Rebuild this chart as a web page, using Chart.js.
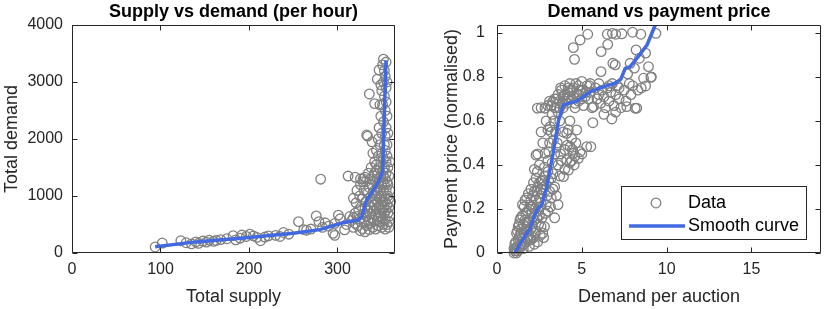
<!DOCTYPE html>
<html><head><meta charset="utf-8">
<script src="https://cdn.jsdelivr.net/npm/chart.js@4"></script>
<style>
body{margin:0;background:#fff;width:830px;height:309px;overflow:hidden;position:relative}
.box{position:absolute;top:0;width:415px;height:309px}
</style></head><body>
<div class="box" style="left:0"><canvas id="c1" width="415" height="309"></canvas></div>
<div class="box" style="left:415px"><canvas id="c2" width="415" height="309"></canvas></div>
<script>
// ---- Left panel: Supply vs demand (per hour) ----
const supplyDemandPoints = [
[94,105],[102,175],[123,215],[129,180],[135,160],[140,195],[143,170],[148,210],[152,190],[155,225],[160,205],[163,220],[168,235],[175,250],[182,305],[185,230],[190,260],[192,315],[197,290],[201,330],[205,300],[209,275],[213,215],[218,280],[222,300],[230,310],[235,290],[239,360],[245,330],[256,550],[262,410],[265,400],[270,420],[276,650],[279,550],[281,1295],[283,450],[286,530],[290,470],[295,345],[297,310],[297,520],[301,665],[303,600],[308,405],[310,500],[312,1350],[314,640],[316,570],
[318,620],[318,450],[320,700],[320,520],[321,880],[322,640],[323,480],[324,760],[325,1000],[325,600],[326,390],[326,1200],[327,820],[327,540],[328,950],[328,430],[329,680],[329,1300],[330,1100],[330,560],[331,780],[331,370],[332,900],[332,1250],[333,640],[333,2070],[333,480],[334,2050],[334,1050],[334,740],[335,1400],[335,850],[335,560],[336,2790],[336,1150],[336,410],[337,980],[337,690],[337,1300],[338,1500],[338,800],[338,520],[339,1950],[339,1200],[339,620],[340,1050],[340,900],[340,1750],[340,450],[341,1350],[341,740],[341,580],[342,2620],[342,1100],[342,1600],[342,850],[343,1250],[343,680],[343,950],[343,420],[344,1450],[344,1800],[344,1000],[344,760],[345,1150],[345,560],[345,1300],[345,890],[346,1700],[346,640],[346,1050],[346,480],[347,1250],[347,820],[347,1500],[347,2200],[348,950],[348,700],[348,1100],[348,1900],[348,550],[349,1350],[349,1600],[349,850],[349,2400],[349,650],[350,1200],[350,1000],[350,1750],[350,760],[350,2100],[350,450],[351,1450],[351,900],[351,2600],[351,1250],[351,600],[352,3000],[352,1100],[352,1650],[352,800],[352,2300],[352,1350],[352,500],[353,3200],[353,1900],[353,1000],[353,2750],[353,1500],[353,700],[353,1200],[354,3100],[354,2500],[354,1800],[354,900],[354,2050],[354,1300],[354,600],[354,420],[355,3350],[355,2900],[355,2200],[355,1600],[355,1100],[355,750],[355,1400],[355,2650],[356,3000],[356,1900],[356,1250],[356,850],[356,2400],[356,500],[356,1700],[357,1500],[357,2100],[357,1000],[357,700],[357,1200],[358,800],[358,1350],[358,550],[358,950],[358,450],[359,1100],[359,650],[359,1600],[360,900],[352,3400],[350,2850],[348,2600],[346,2000],[344,1550],[342,1400],[329,1250],[331,1330],[326,1300],[322,1100],[320,1330],[318,960],[345,3050],[349,2950],[351,3300],[347,3210]
];
const supplyCurveX = [94,140,200,250,280,305,318,323.5,327.5,333,342.5,348.5,351,354.8];
const supplyCurveY = [110,195,270,345,410,525,565,575,640,930,1150,1330,1420,3380];
const leftXTicks = [0,100,200,300];
const leftYTicks = [0,1000,2000,3000,4000];

// ---- Right panel: Demand vs payment price ----
const pricePoints = [
[1.0,0.0],[1.05,0.01],[1.1,0.02],[1.15,0.0],[1.2,0.03],[1.1,0.05],[1.25,0.06],[1.3,0.02],[1.35,0.08],[1.2,0.1],[1.4,0.04],[1.45,0.11],[1.5,0.07],[1.3,0.13],[1.55,0.02],[1.6,0.09],[1.65,0.15],[1.5,0.17],[1.7,0.05],[1.75,0.12],[1.8,0.19],[1.6,0.21],[1.85,0.08],[1.9,0.14],[1.95,0.22],[2.0,0.11],[2.05,0.18],[1.75,0.25],[2.1,0.26],[2.15,0.07],[2.2,0.15],[2.25,0.2],[2.3,0.1],[2.35,0.28],[2.4,0.05],[2.45,0.13],[2.5,0.17],[2.55,0.08],[2.6,0.23],[2.7,0.09],[2.75,0.07],[2.8,0.12],[1.4,0.16],[1.9,0.03],[2.0,0.24],[2.2,0.04],[2.4,0.3],[2.5,0.32],[2.6,0.29],[2.7,0.33],[2.8,0.35],[2.9,0.31],[3.0,0.37],[2.9,0.22],[3.0,0.19],[3.1,0.28],[3.2,0.34],[3.2,0.25],[3.3,0.36],[3.4,0.3],[3.4,0.16],[3.5,0.26],[3.6,0.22],[2.3,0.34],[2.2,0.38],[2.4,0.45],[1.3,0.07],[1.45,0.03],[1.7,0.18],[1.85,0.27],[2.1,0.12],[2.65,0.16],[2.95,0.26],[1.55,0.13],[1.0,0.02],[1.25,0.12],[2.0,0.06],[2.55,0.21],
[1.15,0.09],[1.35,0.15],[1.5,0.22],[1.6,0.04],[1.65,0.24],[1.8,0.1],[1.9,0.2],[2.0,0.29],[2.1,0.16],[2.15,0.32],[2.25,0.09],[2.3,0.24],[2.45,0.19],[2.5,0.25],[2.65,0.27],[2.75,0.3],[2.85,0.18],[3.05,0.33],[3.15,0.21],[3.3,0.29],[1.05,0.04],[1.2,0.01],[1.4,0.09],[1.7,0.14],[1.95,0.06],[2.35,0.16],[2.6,0.12],[2.2,0.28],[1.8,0.06],[2.05,0.21],
[2.3,0.445],[2.38,0.37],[2.83,0.453],[2.6,0.327],[3.0,0.42],[3.1,0.5],[3.13,0.574],[3.33,0.514],[3.2,0.55],[3.0,0.56],[2.9,0.6],[3.4,0.45],[3.6,0.4],[3.7,0.35],[3.8,0.42],[3.92,0.347],[4.0,0.38],[4.11,0.423],[4.11,0.544],[4.21,0.377],[4.31,0.483],[4.3,0.41],[4.5,0.453],[4.4,0.42],[4.6,0.44],[4.7,0.559],[4.8,0.43],[4.9,0.46],[5.0,0.45],[5.29,0.483],[3.5,0.48],[3.7,0.6],[3.6,0.64],[4.3,0.6],[4.2,0.56],[4.4,0.52],[3.35,0.6],[3.9,0.55],[4.0,0.47],
[2.5,0.4],[2.7,0.5],[2.8,0.39],[3.05,0.46],[3.25,0.41],[3.45,0.55],[3.55,0.5],[3.75,0.45],[4.15,0.49],[4.45,0.47],[4.65,0.5],[4.55,0.4],[2.6,0.55],[3.25,0.63],
[2.38,0.658],[2.6,0.66],[2.83,0.658],[3.0,0.67],[3.1,0.69],[3.29,0.688],[3.4,0.7],[3.5,0.66],[3.6,0.72],[3.7,0.69],[3.8,0.74],[3.9,0.71],[4.0,0.76],[4.1,0.68],[4.2,0.73],[4.3,0.77],[4.4,0.7],[4.5,0.75],[4.6,0.66],[4.7,0.72],[4.8,0.69],[4.9,0.74],[5.0,0.78],[5.1,0.67],[5.2,0.71],[5.3,0.76],[5.4,0.7],[5.5,0.73],[5.6,0.66],[5.69,0.665],[5.8,0.75],[5.9,0.7],[6.0,0.77],[6.1,0.68],[6.2,0.74],[6.3,0.71],[6.4,0.66],[6.5,0.75],[6.6,0.69],[6.7,0.73],[6.8,0.77],[6.9,0.67],[7.0,0.72],[7.1,0.76],[7.2,0.7],[7.3,0.66],[7.5,0.74],[7.6,0.69],[7.65,0.665],[7.8,0.77],[7.9,0.72],[8.0,0.76],[8.24,0.658],[8.3,0.74],[8.5,0.75],[8.64,0.794],[8.76,0.759],[9.07,0.798],[6.77,0.609],[5.65,0.592],[7.0,0.64],[6.3,0.63],[4.6,0.68],[4.0,0.72],[3.9,0.66],[4.2,0.75],[4.5,0.71],[3.7,0.66],[4.8,0.76],[5.0,0.7],[5.5,0.77],[6.0,0.72],[6.6,0.76],[7.2,0.75],[8.14,0.658],[3.4,0.66],[3.2,0.67],[4.3,0.74],
[3.5,0.7],[3.75,0.75],[4.05,0.69],[4.25,0.71],[4.45,0.74],[4.65,0.77],[4.85,0.72],[5.05,0.74],[5.25,0.73],[5.45,0.76],[3.85,0.68],[4.15,0.7],
[4.5,0.933],[4.57,0.88],[4.9,0.968],[5.35,0.994],[6.5,0.994],[6.8,0.998],[7.0,0.994],[7.36,0.996],[6.53,0.948],[7.99,1.003],[8.48,0.994],[9.37,0.998],[6.83,0.862],[7.85,0.862],[8.2,0.923],[8.4,0.885],[8.76,0.908],[8.93,0.847],[7.7,0.814],[6.14,0.915],[6.97,0.855],[6.13,0.824],[8.1,0.84],[9.1,0.8],[5.53,0.483]
];
const priceCurveX = [1.06,1.5,1.95,2.2,2.4,2.65,2.93,3.3,3.62,3.92,4.3,4.7,5.1,5.5,6.08,6.97,7.3,7.56,7.85,8.3,8.84,9.33,9.55];
const priceCurveY = [0.0,0.06,0.11,0.17,0.2,0.22,0.3,0.45,0.6,0.673,0.682,0.69,0.71,0.733,0.75,0.772,0.79,0.839,0.847,0.89,0.945,1.036,1.08];
const rightXTicks = [0,5,10,15];
const rightYTicks = [0,0.2,0.4,0.6,0.8,1];

const FONT = '"Liberation Sans", Arial, Helvetica, sans-serif';
const AX = '#262626';
const GRAY = 'rgb(128,128,128)';
const BLUE = 'rgb(65,105,225)';

const framePlugin = {
  id: 'frame',
  afterDatasetsDraw(chart, args, opts) {
    const {ctx, chartArea: a, scales: {x, y}} = chart;
    ctx.save();
    ctx.strokeStyle = AX; ctx.lineWidth = 1;
    const L = Math.round(a.left) + 0.5, R = Math.round(a.right) - 0.5;
    const T = Math.round(a.top) + 0.5, B = Math.round(a.bottom) - 0.5;
    ctx.beginPath();
    ctx.rect(L, T, R - L, B - T);
    const tl = 5;
    x.ticks.forEach(t => {
      const p = Math.round(x.getPixelForValue(t.value)) + 0.5;
      ctx.moveTo(p, B); ctx.lineTo(p, B - tl);
      ctx.moveTo(p, T); ctx.lineTo(p, T + tl);
    });
    y.ticks.forEach(t => {
      const p = Math.round(y.getPixelForValue(t.value)) + 0.5;
      ctx.moveTo(L, p); ctx.lineTo(L + tl, p);
      ctx.moveTo(R, p); ctx.lineTo(R - tl, p);
    });
    ctx.stroke();
    ctx.fillStyle = '#000';
    ctx.font = 'bold 18px ' + FONT;
    ctx.textAlign = 'center'; ctx.textBaseline = 'middle';
    ctx.fillText(opts.title, (a.left + a.right) / 2, 12);
    if (opts.legend) {
      const bx0 = a.right - 200, bx1 = a.right - 15, by0 = a.bottom - 67, by1 = a.bottom - 14;
      ctx.fillStyle = '#fff';
      ctx.fillRect(bx0, by0, bx1 - bx0, by1 - by0);
      ctx.strokeStyle = AX; ctx.lineWidth = 1;
      ctx.strokeRect(Math.round(bx0) + 0.5, Math.round(by0) + 0.5, Math.round(bx1 - bx0), Math.round(by1 - by0));
      ctx.beginPath();
      ctx.strokeStyle = GRAY; ctx.lineWidth = 1.3;
      ctx.arc(bx0 + 35, by0 + 17, 4.8, 0, Math.PI * 2);
      ctx.stroke();
      ctx.beginPath();
      ctx.strokeStyle = BLUE; ctx.lineWidth = 3.5;
      ctx.moveTo(bx0 + 8, by0 + 40); ctx.lineTo(bx0 + 64, by0 + 40);
      ctx.stroke();
      ctx.fillStyle = '#000';
      ctx.font = '18px ' + FONT;
      ctx.textAlign = 'left';
      ctx.fillText('Data', bx0 + 67, by0 + 17);
      ctx.fillText('Smooth curve', bx0 + 67, by0 + 40);
    }
    ctx.restore();
  }
};

function axis(opts) {
  return {
    type: 'linear', min: opts.min, max: opts.max,
    afterBuildTicks: s => { s.ticks = opts.ticks.map(v => ({value: v})); },
    afterFit: s => { if (opts.height) s.height = opts.height; if (opts.width) s.width = opts.width; },
    grid: {display: false, drawTicks: false},
    border: {display: false},
    ticks: {color: AX, font: {size: 16, family: FONT}, padding: opts.tickPad, autoSkip: false, maxRotation: 0,
      callback: v => String(+Number(v).toFixed(2))},
    title: {display: true, text: opts.title, color: AX, font: {size: 18, family: FONT}, padding: opts.titlePad}
  };
}

function makeChart(id, pts, cx, cy, cfg) {
  return new Chart(document.getElementById(id), {
    type: 'scatter',
    data: {
      datasets: [
        {label: 'Smooth curve', data: cx.map((v, i) => ({x: v, y: cy[i]})), showLine: true, borderColor: BLUE,
         borderWidth: 3.5, pointRadius: 0, tension: 0, order: 0},
        {label: 'Data', data: pts.map(p => ({x: p[0], y: p[1]})), borderColor: GRAY, backgroundColor: 'rgba(0,0,0,0)',
         pointRadius: 4.8, borderWidth: 1.3, pointHoverRadius: 4.8, clip: false, order: 1}
      ]
    },
    options: {
      responsive: false, animation: false, devicePixelRatio: 1,
      layout: {padding: cfg.padding},
      plugins: {legend: {display: false}, tooltip: {enabled: false}, title: {display: false},
        frame: {title: cfg.title, legend: cfg.legend}},
      scales: {x: axis(cfg.x), y: axis(cfg.y)}
    },
    plugins: [framePlugin]
  });
}

makeChart('c1', supplyDemandPoints, supplyCurveX, supplyCurveY, {
  title: 'Supply vs demand (per hour)', legend: false,
  padding: {top: 25, right: 20, left: 0, bottom: 0},
  x: {min: 0, max: 365, ticks: leftXTicks, title: 'Total supply', height: 56, tickPad: 7, titlePad: {top: 0, bottom: 1}},
  y: {min: 0, max: 4000, ticks: leftYTicks, title: 'Total demand', width: 72, tickPad: 9, titlePad: {top: 1, bottom: 0}}
});
makeChart('c2', pricePoints, priceCurveX, priceCurveY, {
  title: 'Demand vs payment price', legend: true,
  padding: {top: 25, right: 9, left: 0, bottom: 0},
  x: {min: 0, max: 19.1, ticks: rightXTicks, title: 'Demand per auction', height: 56, tickPad: 7, titlePad: {top: 0, bottom: 1}},
  y: {min: 0, max: 1.036, ticks: rightYTicks, title: 'Payment price (normalised)', width: 82, tickPad: 12, titlePad: {top: 26, bottom: 0}}
});
</script>
</body></html>
